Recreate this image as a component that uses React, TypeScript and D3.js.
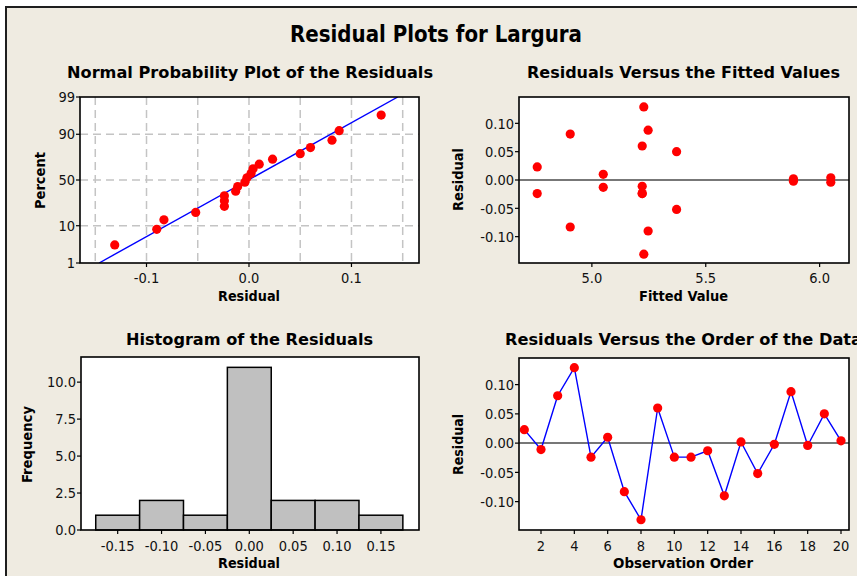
import React from "react";
import * as d3 from "d3";

// Residuals and fitted values in observation order
const observationOrder = [1, 2, 3, 4, 5, 6, 7, 8, 9, 10, 11, 12, 13, 14, 15, 16, 17, 18, 19, 20];
const residuals = [
  0.023, -0.011, 0.081, 0.129, -0.024, 0.01, -0.083, -0.131, 0.06, -0.024,
  -0.024, -0.013, -0.09, 0.002, -0.052, -0.002, 0.088, -0.004, 0.05, 0.004,
];
const fittedValues = [
  4.76, 5.221, 4.905, 5.228, 4.76, 5.05, 4.905, 5.228, 5.221, 5.221,
  5.221, 5.05, 5.247, 5.885, 5.372, 5.885, 5.247, 6.049, 5.372, 6.049,
];

// Axis ticks and grid positions
const probTicks = [1, 10, 50, 90, 99];
const probGridY = [10, 50, 90];
const npTicksX = [-0.1, 0, 0.1];
const npGridX = [-0.15, -0.1, -0.05, 0, 0.05, 0.1, 0.15];
const fittedTicks = [5.0, 5.5, 6.0];
const residualTicks = [-0.1, -0.05, 0, 0.05, 0.1];
const histBinEdges = [-0.175, -0.125, -0.075, -0.025, 0.025, 0.075, 0.125, 0.175];
const histTicks = [-0.15, -0.1, -0.05, 0, 0.05, 0.1, 0.15];
const freqTicks = [0, 2.5, 5, 7.5, 10];
const orderTicks = [2, 4, 6, 8, 10, 12, 14, 16, 18, 20];

const W = 857;
const H = 576;
const BG = "#EFEBE1";
const RED = "#FF0000";
const BLUE = "#0000FF";
const TICK_FONT = "'DejaVu Sans Condensed', 'DejaVu Sans', sans-serif";
const BOLD_FONT = "'DejaVu Sans Condensed', 'DejaVu Sans', sans-serif";
const TICK_SIZE = 14.5;

const fmt = (spec: string) => (v: number) => d3.format(spec)(v).replace("\u2212", "-");

// Inverse standard normal CDF (Acklam's rational approximation)
function qnorm(p: number): number {
  const a = [-39.69683028665376, 220.9460984245205, -275.9285104469687, 138.357751867269, -30.66479806614716, 2.506628277459239];
  const b = [-54.47609879822406, 161.5858368580409, -155.6989798598866, 66.80131188771972, -13.28068155288572];
  const c = [-0.007784894002430293, -0.3223964580411365, -2.400758277161838, -2.549732539343734, 4.374664141464968, 2.938163982698783];
  const d = [0.007784695709041462, 0.3224671290700398, 2.445134137142996, 3.754408661907416];
  const pl = 0.02425;
  if (p < pl) {
    const q = Math.sqrt(-2 * Math.log(p));
    return (((((c[0] * q + c[1]) * q + c[2]) * q + c[3]) * q + c[4]) * q + c[5]) / ((((d[0] * q + d[1]) * q + d[2]) * q + d[3]) * q + 1);
  }
  if (p > 1 - pl) {
    const q = Math.sqrt(-2 * Math.log(1 - p));
    return -(((((c[0] * q + c[1]) * q + c[2]) * q + c[3]) * q + c[4]) * q + c[5]) / ((((d[0] * q + d[1]) * q + d[2]) * q + d[3]) * q + 1);
  }
  const q = p - 0.5;
  const r = q * q;
  return ((((((a[0] * r + a[1]) * r + a[2]) * r + a[3]) * r + a[4]) * r + a[5]) * q) / (((((b[0] * r + b[1]) * r + b[2]) * r + b[3]) * r + b[4]) * r + 1);
}

type Box = { x0: number; x1: number; y0: number; y1: number };

const YTicks = ({ box, scale, ticks, format }: { box: Box; scale: (v: number) => number; ticks: number[]; format: (v: number) => string }) => (
  <g>
    {ticks.map((t) => (
      <g key={t}>
        <line x1={box.x0 - 4} x2={box.x0} y1={scale(t)} y2={scale(t)} stroke="#000" strokeWidth={1.2} />
        <text x={box.x0 - 5} y={scale(t)} dy="0.36em" textAnchor="end" fontSize={TICK_SIZE} fontFamily={TICK_FONT} fill="#111">
          {format(t)}
        </text>
      </g>
    ))}
  </g>
);

const XTicks = ({ box, scale, ticks, format, baseline }: { box: Box; scale: (v: number) => number; ticks: number[]; format: (v: number) => string; baseline: number }) => (
  <g>
    {ticks.map((t) => (
      <g key={t}>
        <line x1={scale(t)} x2={scale(t)} y1={box.y1} y2={box.y1 + 4} stroke="#000" strokeWidth={1.2} />
        <text x={scale(t)} y={baseline} textAnchor="middle" fontSize={TICK_SIZE} fontFamily={TICK_FONT} fill="#111">
          {format(t)}
        </text>
      </g>
    ))}
  </g>
);

const Label = ({ x, y, text, len, rotate = false, size = 13.5 }: { x: number; y: number; text: string; len: number; rotate?: boolean; size?: number }) => (
  <text
    x={rotate ? 0 : x}
    y={rotate ? 0 : y}
    transform={rotate ? `translate(${x},${y}) rotate(-90)` : undefined}
    textAnchor="middle"
    dy={rotate ? "0.36em" : undefined}
    fontSize={size}
    fontWeight="bold"
    fontFamily={BOLD_FONT}
    textLength={len}
    lengthAdjust="spacingAndGlyphs"
    fill="#000"
  >
    {text}
  </text>
);

const PlotRect = ({ box, fill }: { box: Box; fill?: boolean }) => (
  <rect
    x={box.x0}
    y={box.y0}
    width={box.x1 - box.x0}
    height={box.y1 - box.y0}
    fill={fill ? "#FFFFFF" : "none"}
    stroke={fill ? "none" : "#000"}
    strokeWidth={1.6}
  />
);

// Normal probability plot of the residuals
function NormalPlot() {
  const box: Box = { x0: 80, x1: 419, y0: 97, y1: 263 };
  const x = d3.scaleLinear().domain([-0.1649, 0.1659]).range([box.x0, box.x1]);
  const y = d3.scaleLinear().domain([qnorm(0.01), qnorm(0.99)]).range([box.y1, box.y0]);
  const sorted = d3.sort(residuals);
  const n = sorted.length;
  const pts = sorted.map((r, i) => ({ r, p: (i + 1 - 0.3) / (n + 0.4) }));
  const mu = d3.mean(residuals) as number;
  const sd = d3.deviation(residuals) as number;
  const zLo = qnorm(0.01);
  const zHi = qnorm(0.99);
  const fitLine = d3.line<number>().x((z) => x(mu + z * sd)).y((z) => y(z))([zLo, zHi]);
  return (
    <g>
      <PlotRect box={box} fill />
      <defs>
        <clipPath id="np-clip">
          <rect x={box.x0} y={box.y0} width={box.x1 - box.x0} height={box.y1 - box.y0} />
        </clipPath>
      </defs>
      {npGridX.map((g) => (
        <line key={g} x1={x(g)} x2={x(g)} y1={box.y0} y2={box.y1} stroke="#C4C4C4" strokeWidth={1.5} strokeDasharray="8,5" />
      ))}
      {probGridY.map((g) => (
        <line key={g} x1={box.x0} x2={box.x1} y1={y(qnorm(g / 100))} y2={y(qnorm(g / 100))} stroke="#C4C4C4" strokeWidth={1.5} strokeDasharray="8,5" />
      ))}
      <path d={fitLine ?? ""} stroke={BLUE} strokeWidth={1.4} fill="none" clipPath="url(#np-clip)" />
      {pts.map((d, i) => (
        <circle key={i} cx={x(d.r)} cy={y(qnorm(d.p))} r={4.6} fill={RED} />
      ))}
      <PlotRect box={box} />
      <YTicks box={box} scale={(v) => y(qnorm(v / 100))} ticks={probTicks} format={(v) => String(v)} />
      <XTicks box={box} scale={x} ticks={npTicksX} format={fmt(".1f")} baseline={283} />
      <Label x={249} y={301} text="Residual" len={62} />
      <Label x={40} y={180.5} text="Percent" len={57} rotate />
      <Label x={250} y={78} text="Normal Probability Plot of the Residuals" len={366} size={16} />
    </g>
  );
}

// Residuals versus fitted values
function FittedPlot() {
  const box: Box = { x0: 519, x1: 849, y0: 97, y1: 263 };
  const x = d3.scaleLinear().domain([4.68, 6.129]).range([box.x0, box.x1]);
  const y = d3.scaleLinear().domain([-0.1465, 0.1465]).range([box.y1, box.y0]);
  return (
    <g>
      <PlotRect box={box} fill />
      <line x1={box.x0} x2={box.x1} y1={y(0)} y2={y(0)} stroke="#4A4A4A" strokeWidth={1.5} />
      {residuals.map((r, i) => (
        <circle key={i} cx={x(fittedValues[i])} cy={y(r)} r={4.6} fill={RED} />
      ))}
      <PlotRect box={box} />
      <YTicks box={box} scale={y} ticks={residualTicks} format={fmt(".2f")} />
      <XTicks box={box} scale={x} ticks={fittedTicks} format={fmt(".1f")} baseline={283} />
      <Label x={683.5} y={301} text="Fitted Value" len={89} />
      <Label x={458} y={179.5} text="Residual" len={63} rotate />
      <Label x={683.5} y={78} text="Residuals Versus the Fitted Values" len={313} size={16} />
    </g>
  );
}

// Histogram of the residuals
function HistogramPlot() {
  const box: Box = { x0: 81, x1: 419, y0: 357, y1: 530 };
  const x = d3.scaleLinear().domain([-0.1918, 0.1934]).range([box.x0, box.x1]);
  const y = d3.scaleLinear().domain([0, 11.7]).range([box.y1, box.y0]);
  const bins = d3
    .bin()
    .domain([histBinEdges[0], histBinEdges[histBinEdges.length - 1]])
    .thresholds(histBinEdges.slice(1, -1))(residuals);
  return (
    <g>
      <PlotRect box={box} fill />
      {bins.map((b, i) => (
        <rect
          key={i}
          x={x(b.x0 as number)}
          y={y(b.length)}
          width={x(b.x1 as number) - x(b.x0 as number)}
          height={y(0) - y(b.length)}
          fill="#C0C0C0"
          stroke="#000"
          strokeWidth={1.5}
        />
      ))}
      <PlotRect box={box} />
      <YTicks box={box} scale={y} ticks={freqTicks} format={fmt(".1f")} />
      <XTicks box={box} scale={x} ticks={histTicks} format={fmt(".2f")} baseline={551} />
      <Label x={249} y={568} text="Residual" len={62} />
      <Label x={27} y={444.5} text="Frequency" len={77} rotate />
      <Label x={249.5} y={345} text="Histogram of the Residuals" len={247} size={16} />
    </g>
  );
}

// Residuals versus observation order
function OrderPlot() {
  const box: Box = { x0: 519, x1: 849, y0: 358, y1: 530 };
  const x = d3.scaleLinear().domain([0.68, 20.48]).range([box.x0, box.x1]);
  const y = d3.scaleLinear().domain([-0.1485, 0.1455]).range([box.y1, box.y0]);
  const path = d3
    .line<number>()
    .x((_, i) => x(observationOrder[i]))
    .y((r) => y(r))(residuals);
  return (
    <g>
      <PlotRect box={box} fill />
      <line x1={box.x0} x2={box.x1} y1={y(0)} y2={y(0)} stroke="#4A4A4A" strokeWidth={1.5} />
      <path d={path ?? ""} stroke={BLUE} strokeWidth={1.4} fill="none" />
      {residuals.map((r, i) => (
        <circle key={i} cx={x(observationOrder[i])} cy={y(r)} r={4.6} fill={RED} />
      ))}
      <PlotRect box={box} />
      <YTicks box={box} scale={y} ticks={residualTicks} format={fmt(".2f")} />
      <XTicks box={box} scale={x} ticks={orderTicks} format={(v) => String(v)} baseline={551} />
      <Label x={683} y={568} text="Observation Order" len={140} />
      <Label x={458} y={444.5} text="Residual" len={61} rotate />
      <Label x={683.5} y={345} text="Residuals Versus the Order of the Data" len={357} size={16} />
    </g>
  );
}

export default function App() {
  return (
    <div style={{ position: "absolute", left: 0, top: 0 }}>
      <svg width={W} height={H} viewBox={`0 0 ${W} ${H}`} style={{ display: "block" }}>
        <rect x={0} y={0} width={W} height={H} fill="#FFFFFF" />
        <rect x={6} y={7} width={W - 6} height={H - 7} fill={BG} />
        <line x1={6} x2={W} y1={7} y2={7} stroke="#1E1E1E" strokeWidth={2} />
        <line x1={6} x2={6} y1={6} y2={H} stroke="#1E1E1E" strokeWidth={2} />
        <Label x={436} y={42} text="Residual Plots for Largura" len={292} size={23} />
        <NormalPlot />
        <FittedPlot />
        <HistogramPlot />
        <OrderPlot />
      </svg>
    </div>
  );
}
